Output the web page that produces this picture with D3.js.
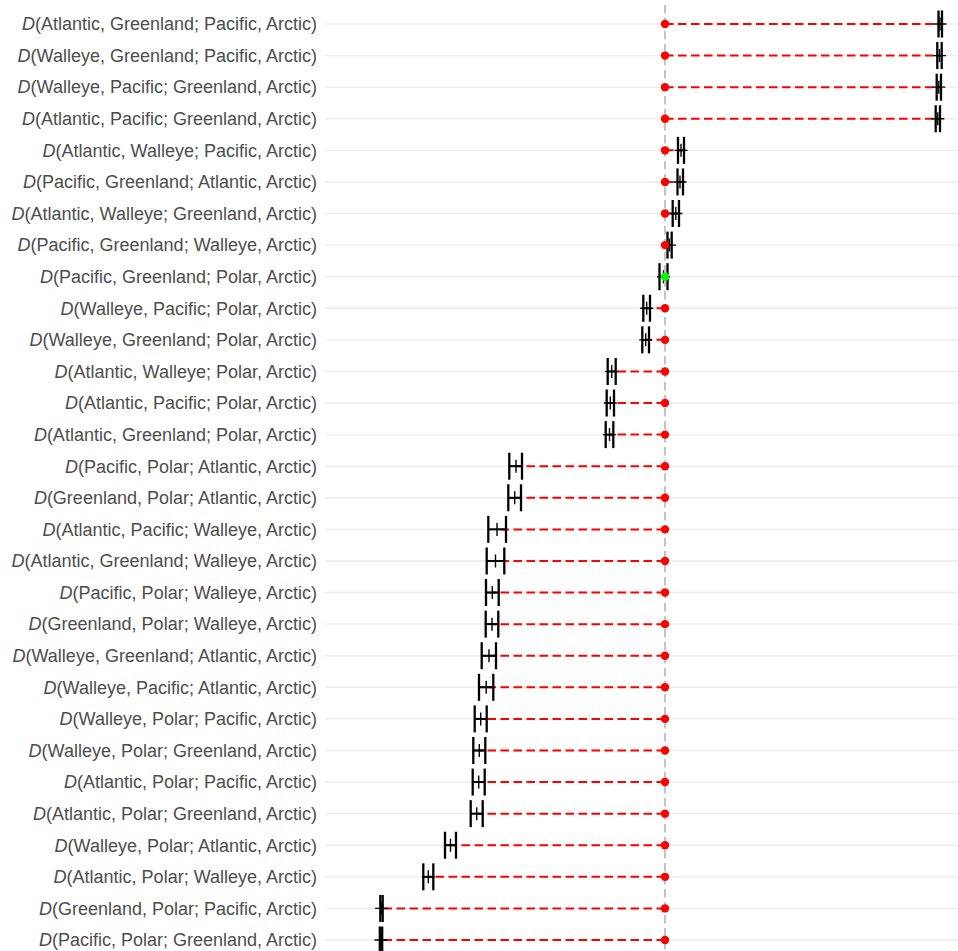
<!DOCTYPE html>
<html>
<head>
<meta charset="utf-8">
<script src="https://cdn.jsdelivr.net/npm/d3@7"></script>
<style>
  html, body { margin: 0; padding: 0; background: #fff; }
  svg { display: block; }
</style>
</head>
<body>
<svg id="chart" width="958" height="951"></svg>
<script>
// Data: D-statistic labels (top to bottom), estimates and interval bounds
const labels = [
  "Atlantic, Greenland; Pacific, Arctic",
  "Walleye, Greenland; Pacific, Arctic",
  "Walleye, Pacific; Greenland, Arctic",
  "Atlantic, Pacific; Greenland, Arctic",
  "Atlantic, Walleye; Pacific, Arctic",
  "Pacific, Greenland; Atlantic, Arctic",
  "Atlantic, Walleye; Greenland, Arctic",
  "Pacific, Greenland; Walleye, Arctic",
  "Pacific, Greenland; Polar, Arctic",
  "Walleye, Pacific; Polar, Arctic",
  "Walleye, Greenland; Polar, Arctic",
  "Atlantic, Walleye; Polar, Arctic",
  "Atlantic, Pacific; Polar, Arctic",
  "Atlantic, Greenland; Polar, Arctic",
  "Pacific, Polar; Atlantic, Arctic",
  "Greenland, Polar; Atlantic, Arctic",
  "Atlantic, Pacific; Walleye, Arctic",
  "Atlantic, Greenland; Walleye, Arctic",
  "Pacific, Polar; Walleye, Arctic",
  "Greenland, Polar; Walleye, Arctic",
  "Walleye, Greenland; Atlantic, Arctic",
  "Walleye, Pacific; Atlantic, Arctic",
  "Walleye, Polar; Pacific, Arctic",
  "Walleye, Polar; Greenland, Arctic",
  "Atlantic, Polar; Pacific, Arctic",
  "Atlantic, Polar; Greenland, Arctic",
  "Walleye, Polar; Atlantic, Arctic",
  "Atlantic, Polar; Walleye, Arctic",
  "Greenland, Polar; Pacific, Arctic",
  "Pacific, Polar; Greenland, Arctic"
];
const estimate = [
  0.2750, 0.2745, 0.2738, 0.2728, 0.0160, 0.0150, 0.0108, 0.0045, -0.0015, -0.0183,
  -0.0193, -0.0533, -0.0547, -0.0555, -0.1490, -0.1503, -0.1680, -0.1695, -0.1727, -0.1730,
  -0.1760, -0.1788, -0.1843, -0.1857, -0.1863, -0.1883, -0.2145, -0.2367, -0.2835, -0.2840
];
const lower = [
  0.2735, 0.2723, 0.2717, 0.2707, 0.0130, 0.0125, 0.0077, 0.0025, -0.0055, -0.0217,
  -0.0227, -0.0573, -0.0583, -0.0593, -0.1557, -0.1567, -0.1767, -0.1783, -0.1790, -0.1793,
  -0.1833, -0.1860, -0.1903, -0.1917, -0.1923, -0.1943, -0.2200, -0.2417, -0.2847, -0.2852
];
const upper = [
  0.2770, 0.2767, 0.2760, 0.2750, 0.0190, 0.0180, 0.0140, 0.0067, 0.0025, -0.0150,
  -0.0160, -0.0493, -0.0510, -0.0517, -0.1430, -0.1440, -0.1590, -0.1607, -0.1663, -0.1667,
  -0.1690, -0.1717, -0.1783, -0.1797, -0.1803, -0.1823, -0.2090, -0.2317, -0.2823, -0.2828
];
// significance: true = significant (red), false = not (green)
const significant = labels.map((d, i) => i !== 8);

const rows = labels.map((l, i) => ({
  label: l, est: estimate[i], lo: lower[i], hi: upper[i], sig: significant[i]
}));

const svg = d3.select("#chart");
const panelLeft = 325, panelRight = 958, panelTop = 5, panelBottom = 951;

const x = d3.scaleLinear().domain([-0.34, 0.293]).range([panelLeft, panelRight]);
const y = d3.scalePoint().domain(labels).range([24, 940]);

// grid lines
svg.append("g").selectAll("line").data(rows).join("line")
  .attr("x1", panelLeft).attr("x2", panelRight)
  .attr("y1", d => y(d.label)).attr("y2", d => y(d.label))
  .attr("stroke", "#ededed").attr("stroke-width", 1.4);

// red dashed segments from 0 to estimate
svg.append("g").selectAll("line").data(rows.filter(d => d.sig)).join("line")
  .attr("x1", x(0)).attr("x2", d => x(d.est))
  .attr("y1", d => y(d.label)).attr("y2", d => y(d.label))
  .attr("stroke", "#ff0000").attr("stroke-width", 2)
  .attr("stroke-dasharray", "8.5,4.5");

// error bars
const capH = 13.5;
const eb = svg.append("g").attr("stroke", "#000");
eb.selectAll("line.h").data(rows).join("line").attr("class", "h")
  .attr("x1", d => x(d.lo)).attr("x2", d => x(d.hi))
  .attr("y1", d => y(d.label)).attr("y2", d => y(d.label))
  .attr("stroke-width", 2);
eb.selectAll("line.cl").data(rows).join("line").attr("class", "cl")
  .attr("x1", d => x(d.lo)).attr("x2", d => x(d.lo))
  .attr("y1", d => y(d.label) - capH).attr("y2", d => y(d.label) + capH)
  .attr("stroke-width", 2.3);
eb.selectAll("line.cr").data(rows).join("line").attr("class", "cr")
  .attr("x1", d => x(d.hi)).attr("x2", d => x(d.hi))
  .attr("y1", d => y(d.label) - capH).attr("y2", d => y(d.label) + capH)
  .attr("stroke-width", 2.3);

// "+" point at estimate
const ps = 6.5;
const plus = svg.append("g").attr("stroke", "#000").attr("stroke-width", 1.4);
plus.selectAll("path").data(rows).join("path")
  .attr("d", d => {
    const cx = x(d.est), cy = y(d.label);
    return `M${cx - ps},${cy}H${cx + ps}M${cx},${cy - ps}V${cy + ps}`;
  });

// zero reference line
svg.append("line")
  .attr("x1", x(0)).attr("x2", x(0))
  .attr("y1", panelTop).attr("y2", panelBottom)
  .attr("stroke", "#bebebe").attr("stroke-width", 2)
  .attr("stroke-dasharray", "8.5,4.5")
  .attr("stroke-opacity", 0.9);

// dots at zero
svg.append("g").selectAll("circle").data(rows).join("circle")
  .attr("cx", x(0)).attr("cy", d => y(d.label)).attr("r", 4.2)
  .attr("fill", d => d.sig ? "#ff0000" : "#00ff00");

// labels
const lab = svg.append("g")
  .attr("font-family", "'Liberation Sans', Arial, Helvetica, sans-serif")
  .attr("font-size", 18).attr("fill", "#4d4d4d")
  .attr("text-anchor", "end");
lab.selectAll("text").data(rows).join("text")
  .attr("x", 317).attr("y", d => y(d.label)).attr("dy", "0.35em")
  .each(function(d) {
    const t = d3.select(this);
    t.append("tspan").attr("font-style", "italic").text("D");
    t.append("tspan").text("(" + d.label + ")");
  });
</script>
</body>
</html>
